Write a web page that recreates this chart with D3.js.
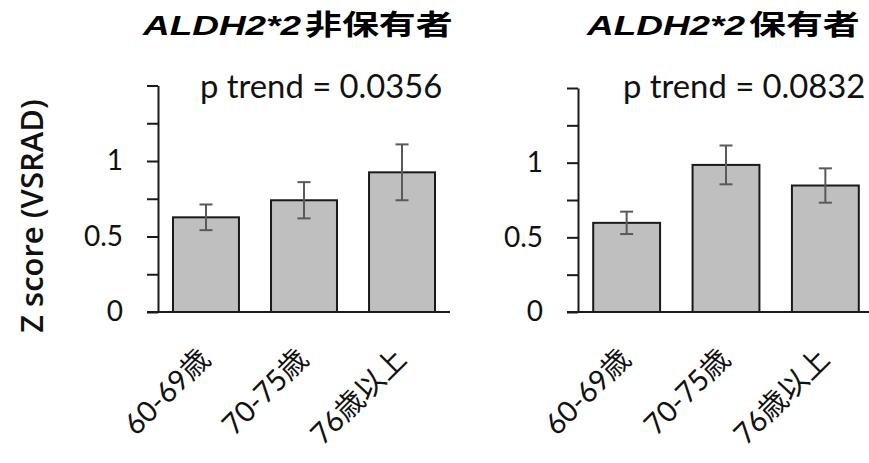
<!DOCTYPE html>
<html>
<head>
<meta charset="utf-8">
<script src="https://cdn.jsdelivr.net/npm/d3@7"></script>
<style>
  body { margin: 0; background: #fff; }
  svg { display: block; }
</style>
</head>
<body>
<div id="chart"></div>
<script>
// values
var categories = ["60-69歳", "70-75歳", "76歳以上"];
var nonCarrierMean = [0.627, 0.74, 0.925];
var nonCarrierErr = [0.085, 0.12, 0.185];
var carrierMean = [0.597, 0.985, 0.847];
var carrierErr = [0.075, 0.13, 0.115];
var yTicks = [0, 0.25, 0.5, 0.75, 1, 1.25, 1.5];
var yTickLabels = ["0", "", "0.5", "", "1", "", ""];
var panelTitles = ["非保有者", "保有者"];
var pTrends = ["p trend = 0.0356", "p trend = 0.0832"];

var W = 869, H = 463;
var svg = d3.select("#chart").append("svg")
  .attr("width", W)
  .attr("height", H);

var latin = "Lato, 'Noto Sans CJK JP', sans-serif";

function drawPanel(opt) {
  var x = d3.scaleBand()
    .domain(categories)
    .range([opt.x0, opt.x1])
    .paddingInner(0.327)
    .paddingOuter(0.153);
  var y = d3.scaleLinear()
    .domain([0, 1.5])
    .range([opt.y0, opt.y1]);

  var g = svg.append("g");

  // bars
  g.selectAll("rect.bar")
    .data(opt.mean)
    .enter()
    .append("rect")
      .attr("class", "bar")
      .attr("x", function(d, i) { return x(categories[i]); })
      .attr("y", function(d) { return y(d); })
      .attr("width", x.bandwidth())
      .attr("height", function(d) { return y(0) - y(d); })
      .style("fill", "#bfbfbf")
      .style("stroke", "#1a1a1a")
      .style("stroke-width", 2);

  // error bars
  var cx = function(i) { return x(categories[i]) + x.bandwidth() / 2; };
  var err = g.selectAll("g.err")
    .data(opt.mean)
    .enter()
    .append("g")
      .attr("class", "err")
      .style("stroke", "#595959")
      .style("stroke-width", 2);
  err.append("line")
    .attr("x1", function(d, i) { return cx(i); })
    .attr("x2", function(d, i) { return cx(i); })
    .attr("y1", function(d, i) { return y(d - opt.err[i]); })
    .attr("y2", function(d, i) { return y(d + opt.err[i]); });
  err.append("line")
    .attr("x1", function(d, i) { return cx(i) - 6.5; })
    .attr("x2", function(d, i) { return cx(i) + 6.5; })
    .attr("y1", function(d, i) { return y(d + opt.err[i]); })
    .attr("y2", function(d, i) { return y(d + opt.err[i]); });
  err.append("line")
    .attr("x1", function(d, i) { return cx(i) - 6.5; })
    .attr("x2", function(d, i) { return cx(i) + 6.5; })
    .attr("y1", function(d, i) { return y(d - opt.err[i]); })
    .attr("y2", function(d, i) { return y(d - opt.err[i]); });

  // y axis
  var yAxis = d3.axisLeft(y)
    .tickValues(yTicks)
    .tickSize(11)
    .tickSizeOuter(0)
    .tickPadding(24)
    .tickFormat(function(d, i) { return yTickLabels[i]; });
  var ya = g.append("g")
    .attr("transform", "translate(" + opt.x0 + ",0)")
    .call(yAxis);
  ya.select(".domain").style("stroke", "#1a1a1a").style("stroke-width", 2);
  ya.selectAll(".tick line").style("stroke", "#1a1a1a").style("stroke-width", 2);
  ya.selectAll(".tick text")
    .style("font-family", latin)
    .style("font-size", "28px")
    .style("fill", "#111");

  // x axis baseline
  g.append("line")
    .attr("x1", opt.x0 - 11)
    .attr("x2", opt.x1)
    .attr("y1", y(0))
    .attr("y2", y(0))
    .style("stroke", "#1a1a1a")
    .style("stroke-width", 2);

  // category labels
  g.selectAll("text.cat")
    .data(categories)
    .enter()
    .append("text")
      .attr("class", "cat")
      .attr("text-anchor", "end")
      .attr("transform", function(d) {
        return "translate(" + (x(d) + x.bandwidth() / 2 + 6) + "," + (y(0) + 49) + ") rotate(-45)";
      })
      .style("font-family", latin)
      .style("font-size", "29px")
      .style("fill", "#111")
      .text(function(d) { return d; });

  // title (stretched horizontally like the reference)
  var t = g.append("text")
    .attr("transform", "translate(" + opt.titleX + ",35) scale(1.32,1)")
    .style("font-size", "28px")
    .style("font-weight", "bold")
    .style("fill", "#000");
  t.append("tspan")
    .style("font-family", "'Liberation Sans', Arial, sans-serif")
    .style("font-style", "italic")
    .text("ALDH2*2");
  t.append("tspan")
    .attr("dx", 3)
    .style("font-family", "'Noto Sans CJK JP', sans-serif")
    .text(opt.title);

  // p trend
  g.append("text")
    .attr("transform", "translate(" + opt.pX + ",98) scale(1.025,1)")
    .style("font-family", latin)
    .style("font-size", "32px")
    .style("fill", "#111")
    .text(opt.p);
}

drawPanel({ x0: 158, x1: 450, y0: 312, y1: 85.5, mean: nonCarrierMean, err: nonCarrierErr,
  title: panelTitles[0], p: pTrends[0], titleX: 143, pX: 200 });
drawPanel({ x0: 578, x1: 874, y0: 312, y1: 88, mean: carrierMean, err: carrierErr,
  title: panelTitles[1], p: pTrends[1], titleX: 587, pX: 623 });

// y axis title
svg.append("text")
  .attr("transform", "translate(43,216) rotate(-90)")
  .attr("text-anchor", "middle")
  .style("font-family", "'Open Sans', sans-serif")
  .style("font-weight", "600")
  .style("font-size", "31px")
  .style("fill", "#111")
  .text("Z score (VSRAD)");
</script>
</body>
</html>
